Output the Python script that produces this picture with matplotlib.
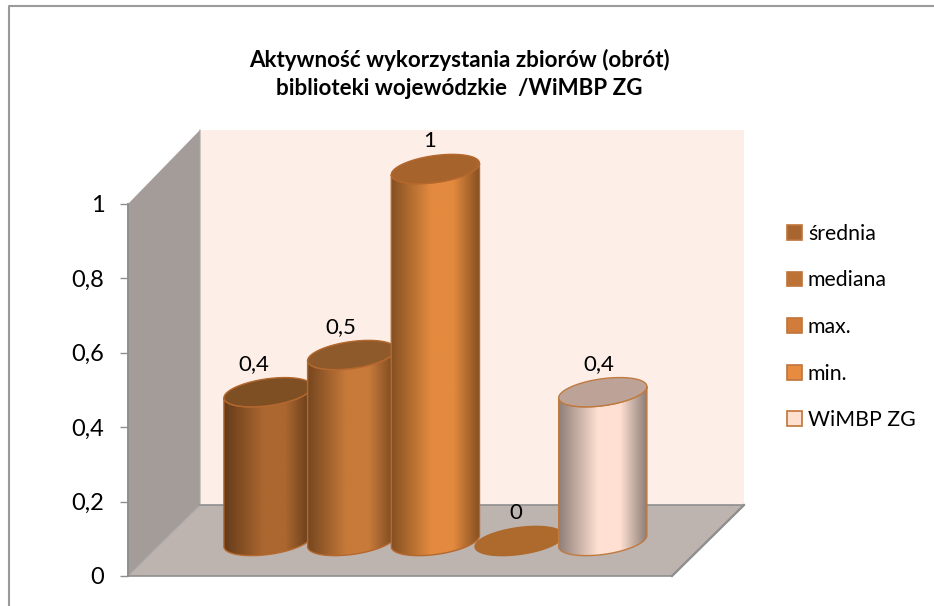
import numpy as np
import matplotlib
matplotlib.use('Agg')
import matplotlib.pyplot as plt
from matplotlib.colors import LinearSegmentedColormap
from matplotlib.patches import PathPatch, Patch, Polygon
from matplotlib.path import Path

W, H = 934, 606

# data
categories = ['średnia', 'mediana', 'max.', 'min.', 'WiMBP ZG']
values = [0.4, 0.5, 1, 0, 0.4]
value_labels = ['0,4', '0,5', '1', '0', '0,4']
y_ticks = [0, 0.2, 0.4, 0.6, 0.8, 1]
y_tick_labels = ['0', '0,2', '0,4', '0,6', '0,8', '1']
title = 'Aktywność wykorzystania zbiorów (obrót)\nbiblioteki wojewódzkie  /WiMBP ZG'

# styles
legend_colors = ['#a9652f', '#bd7235', '#d17c3a', '#e68b40', '#ffdfd0']
top_colors = ['#7f4f24', '#8f5a2b', '#a6642c', '#ae692d', '#bda397']
edge_dark = ['#633a1a', '#74461f', '#855022', '#855022', '#8c7d76']
mid_colors = ['#ab672f', '#c87a3a', '#e38a3f', '#e38a3f', '#ffe0d2']
line_colors = ['#b5682e', '#b5682e', '#b5682e', '#ae692d', '#c07a40']

# scales: one unit of value is 372 px, one category is 83.7 px
px_y = 372.0
px_x = 83.7
x0_px, y0_px = 268.0, 576.0


def xp(px):
    return (px - x0_px) / px_x


def yp(py):
    return (y0_px - py) / px_y


plt.rcParams['font.family'] = ['Lato', 'DejaVu Sans']
fig = plt.figure(figsize=(W / 100, H / 100), dpi=100)
ax = fig.add_axes([0, 0, 1, 1])
ax.patch.set_alpha(0)

# frame of the chart
ax.plot([xp(9.5), xp(9.5), xp(W)], [yp(H), yp(5.5), yp(5.5)], color='#9a9a9a', lw=1.5, zorder=1)

# walls and floor
wall_left, wall_right, wall_top, wall_bottom = xp(200), xp(744), yp(130), yp(505)
axis_x, floor_right = xp(128), xp(672)
ax.add_patch(Polygon([(wall_left, wall_top), (wall_right, wall_top),
                      (wall_right, wall_bottom), (wall_left, wall_bottom)],
                     facecolor='#fdefe8', edgecolor='none', zorder=1))
ax.add_patch(Polygon([(axis_x, 1), (wall_left, wall_top), (wall_left, wall_bottom), (axis_x, 0)],
                     facecolor='#a39c98', edgecolor='none', zorder=1))
ax.add_patch(Polygon([(axis_x, 0), (wall_left, wall_bottom), (wall_right, wall_bottom), (floor_right, 0)],
                     facecolor='#bdb4b0', edgecolor='none', zorder=1))
ax.plot([axis_x, wall_left, wall_left], [0, wall_bottom, wall_top], color='#a8a8a8', lw=0.8, zorder=1.1)
ax.plot([wall_left, wall_right, floor_right, axis_x], [wall_bottom, wall_bottom, 0, 0],
        color='#8f8f8f', lw=1.2, zorder=1.1)
ax.plot([floor_right, wall_right], [0, wall_bottom], color='#8f8f8f', lw=1.6, zorder=1.1)

# cylinders
a, b, th = 44.5, 13.4, np.radians(8)
base = yp(541)
t0 = np.arctan2(-b * np.sin(th), a * np.cos(th))


def ellipse_pts(cx, cy, t):
    dx = a * np.cos(t) * np.cos(th) - b * np.sin(t) * np.sin(th)
    dy = a * np.cos(t) * np.sin(th) + b * np.sin(t) * np.cos(th)
    return cx + dx / px_x, cy + dy / px_y


for i, v in enumerate(values):
    z = 2 + i
    top = base + v
    if v > 0:
        cmap = LinearSegmentedColormap.from_list(
            'c%d' % i, [(0, edge_dark[i]), (0.45, mid_colors[i]), (0.7, mid_colors[i]), (1, edge_dark[i])])
        # t0 is the right hand extreme of the ellipse, going round clockwise gives the lower half
        lower = np.linspace(t0, t0 - np.pi, 60)
        bx, by = ellipse_pts(i, base, lower)
        tx, ty = ellipse_pts(i, top, lower[::-1])
        pts = np.column_stack([np.r_[bx, tx], np.r_[by, ty]])
        body = PathPatch(Path(np.vstack([pts, pts[0]])), facecolor='none',
                         edgecolor=line_colors[i], lw=1.0, zorder=z + 0.2)
        ax.add_patch(body)
        half = a / px_x
        im = ax.imshow(np.linspace(0, 1, 256).reshape(1, -1), cmap=cmap, aspect='auto',
                       extent=(i - half, i + half, base - 0.1, top + 0.1), zorder=z)
        im.set_clip_path(body)
    t = np.linspace(0, 2 * np.pi, 120)
    ex, ey = ellipse_pts(i, top, t)
    ax.fill(ex, ey, facecolor=top_colors[i], edgecolor=line_colors[i], lw=1.0, zorder=z + 0.3)

# value labels, moved to the left as the chart was drawn
label_shift = [-14, -11, -6, -3, -4]
for i, v in enumerate(values):
    ax.annotate(value_labels[i], (i, base + v), xytext=(label_shift[i] * 0.72, 28 * 0.72),
                textcoords='offset points', ha='center', va='center', fontsize=16,
                color='black', zorder=10)

ax.set_xlim(xp(0), xp(W))
ax.set_ylim(yp(H), yp(0))

# value axis
ax.spines[['top', 'right', 'bottom']].set_visible(False)
ax.spines['left'].set_position(('data', axis_x))
ax.spines['left'].set_bounds(0, 1)
ax.spines['left'].set_color('#8f8f8f')
ax.spines['left'].set_linewidth(1.4)
ax.spines['left'].set_zorder(1.5)
ax.set_xticks([])
ax.set_yticks(y_ticks)
ax.set_yticklabels(y_tick_labels, fontsize=17)
ax.tick_params(axis='y', length=6, width=1, color='#8f8f8f', pad=11, labelcolor='black')

ax.text(xp(459), yp(74), title, ha='center', va='center', fontsize=16.1,
        fontweight='bold', linespacing=1.4, color='black', zorder=10)

handles = [Patch(facecolor=c, edgecolor='#c0743a', lw=1.2) for c in legend_colors]
ax.legend(handles, categories, loc='center left', bbox_to_anchor=(787 / W, 1 - 327 / H),
          frameon=False, fontsize=15.3, labelspacing=1.25, handlelength=0.7, handleheight=0.7,
          handletextpad=0.28, borderpad=0, borderaxespad=0)

fig.savefig('out.png', dpi=100)
